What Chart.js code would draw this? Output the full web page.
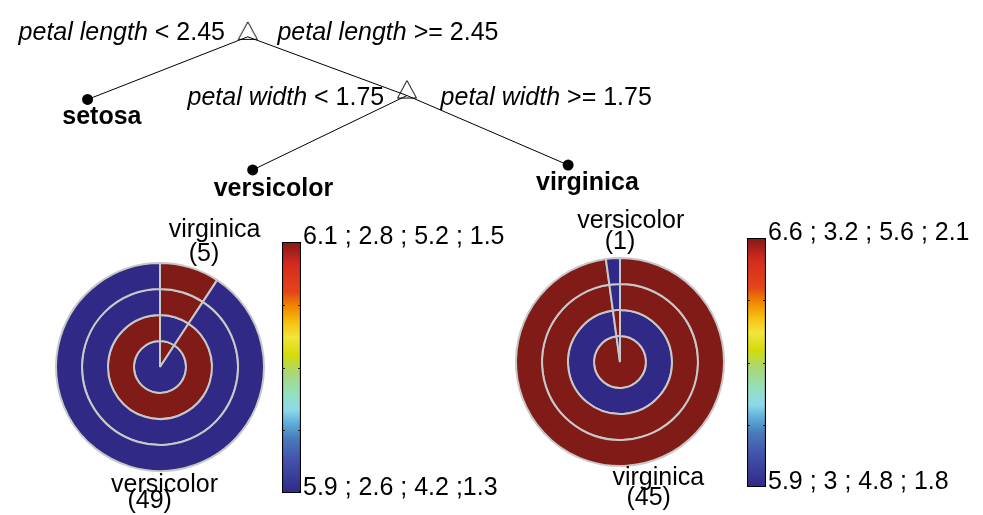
<!DOCTYPE html>
<html>
<head>
<meta charset="utf-8">
<title>Iris decision tree</title>
<script src="https://cdn.jsdelivr.net/npm/chart.js@4.4.1/dist/chart.umd.min.js"></script>
<style>
  html, body { margin: 0; padding: 0; background: #fff; }
  #page { position: relative; width: 983px; height: 515px; overflow: hidden; }
  #page canvas { position: absolute; }
</style>
</head>
<body>
<div id="page">
  <canvas id="tree" width="983" height="515" style="left:0;top:0"></canvas>
  <canvas id="pieLeft" width="320" height="320" style="left:0;top:207px"></canvas>
  <canvas id="pieRight" width="320" height="320" style="left:460px;top:202px"></canvas>
  <canvas id="barLeft" width="260" height="291" style="left:281px;top:222px"></canvas>
  <canvas id="barRight" width="237" height="289" style="left:746px;top:218px"></canvas>
</div>
<script>
// ---- tree ----
const splitFeatures = ['petal length', 'petal width'];
const splitThresholds = [2.45, 1.75];
const leafClasses = ['setosa', 'versicolor', 'virginica'];
// parent -> child, 's' = split node, 'l' = leaf
const treeEdges = [['s0', 'l0'], ['s0', 's1'], ['s1', 'l1'], ['s1', 'l2']];

// ---- leaf summaries (slice order: virginica, versicolor) ----
const pieClasses = ['virginica', 'versicolor'];
const featureNames = ['sepal length', 'sepal width', 'petal length', 'petal width'];

const leftCounts = [5, 49];
const leftVirginica = [6.1, 2.6, 5.2, 1.5];
const leftVersicolor = [5.9, 2.8, 4.2, 1.3];

const rightCounts = [45, 1];
const rightVirginica = [6.6, 3.0, 5.6, 2.1];
const rightVersicolor = [5.9, 3.2, 4.8, 1.8];

// colour bar end labels
const leftBarTop = '6.1 ; 2.8 ; 5.2 ; 1.5';
const leftBarBottom = '5.9 ; 2.6 ; 4.2 ;1.3';
const rightBarTop = '6.6 ; 3.2 ; 5.6 ; 2.1';
const rightBarBottom = '5.9 ; 3 ; 4.8 ; 1.8';

// ---- layout (page pixels) ----
const splitPos = [[245, 32], [406, 92]];
const splitLabelPos = [
  { leftEnd: 222, rightStart: 275, baseline: 35 },
  { leftEnd: 383, rightStart: 440, baseline: 102 }
];
const leafPos = [[83, 96], [250, 168], [569, 163]];
const leafLabelPos = [[97.5, 121], [271, 195], [588.5, 189]];
// label offsets from the pie centre, per slice: [name, count]
const leftPieLabels = [[[54.5, -130], [44, -106]], [[4.5, 125], [-10.3, 141.3]]];
const rightPieLabels = [[[38.3, 123], [28.7, 143]], [[10.8, -133.7], [0, -113]]];

const FONT = '"Liberation Sans", Arial, Helvetica, sans-serif';
const FONT_SIZE = 25;

Chart.defaults.font.family = FONT;
Chart.defaults.color = '#000';
Chart.defaults.animation = false;
Chart.defaults.events = [];
Chart.defaults.plugins.legend.display = false;
Chart.defaults.plugins.tooltip.enabled = false;

// jet-like map, 0 = low (navy) .. 1 = high (dark red)
const colorStops = [
  [0.00, [48, 41, 134]],
  [0.13, [66, 82, 170]],
  [0.22, [74, 124, 188]],
  [0.28, [95, 176, 218]],
  [0.33, [142, 216, 234]],
  [0.39, [147, 224, 196]],
  [0.48, [169, 216, 115]],
  [0.55, [211, 220, 10]],
  [0.62, [244, 228, 60]],
  [0.68, [247, 192, 16]],
  [0.75, [240, 128, 0]],
  [0.80, [227, 70, 26]],
  [0.91, [213, 43, 30]],
  [0.97, [160, 30, 26]],
  [1.00, [128, 27, 23]]
];

function colormap(t) {
  t = Math.max(0, Math.min(1, t));
  for (let i = 1; i < colorStops.length; i++) {
    const [t1, c1] = colorStops[i];
    const [t0, c0] = colorStops[i - 1];
    if (t <= t1) {
      const f = (t - t0) / (t1 - t0);
      const c = c0.map((v, k) => Math.round(v + (c1[k] - v) * f));
      return `rgb(${c[0]},${c[1]},${c[2]})`;
    }
  }
  return 'rgb(128,27,23)';
}

// ---------- tree ----------
// open triangle drawn above the split point
function triangleMarker() {
  const c = document.createElement('canvas');
  c.width = 22;
  c.height = 36;
  const g = c.getContext('2d');
  g.strokeStyle = '#000';
  g.lineWidth = 1;
  g.beginPath();
  g.moveTo(11, 3);
  g.lineTo(1.5, 20.5);
  g.lineTo(20.5, 20.5);
  g.closePath();
  g.stroke();
  return c;
}

function nodePoint(id) {
  const p = id[0] === 's' ? splitPos[+id.slice(1)] : leafPos[+id.slice(1)];
  return { x: p[0], y: p[1] };
}

function drawRuns(ctx, runs, x, y, align) {
  const fonts = runs.map(r => (r[1] ? 'italic ' : '') + FONT_SIZE + 'px ' + FONT);
  const widths = runs.map((r, i) => { ctx.font = fonts[i]; return ctx.measureText(r[0]).width; });
  let cx = align === 'right' ? x - widths.reduce((a, b) => a + b, 0) : x;
  ctx.textAlign = 'left';
  runs.forEach((r, i) => {
    ctx.font = fonts[i];
    ctx.fillText(r[0], cx, y);
    cx += widths[i];
  });
}

const treeLabels = {
  id: 'treeLabels',
  afterDatasetsDraw(chart) {
    const { ctx, scales: { x, y } } = chart;
    ctx.save();
    ctx.fillStyle = '#000';
    ctx.textBaseline = 'alphabetic';
    splitFeatures.forEach((feat, i) => {
      const L = splitLabelPos[i];
      const by = y.getPixelForValue(L.baseline);
      drawRuns(ctx, [[feat, true], [' < ' + splitThresholds[i], false]], x.getPixelForValue(L.leftEnd), by, 'right');
      drawRuns(ctx, [[feat, true], [' >= ' + splitThresholds[i], false]], x.getPixelForValue(L.rightStart), by, 'left');
    });
    ctx.font = 'bold ' + FONT_SIZE + 'px ' + FONT;
    ctx.textAlign = 'center';
    leafClasses.forEach((name, i) => {
      const [lx, ly] = leafLabelPos[i];
      ctx.fillText(name, x.getPixelForValue(lx), y.getPixelForValue(ly));
    });
    ctx.restore();
  }
};

const edgeSets = treeEdges.map(([a, b]) => ({
  data: [nodePoint(a), nodePoint(b)],
  showLine: true,
  borderColor: '#000',
  borderWidth: 1,
  pointRadius: 0,
  order: 2
}));

new Chart(document.getElementById('tree'), {
  type: 'scatter',
  data: {
    datasets: [
      {
        data: splitPos.map(p => ({ x: p[0], y: p[1] })),
        pointStyle: triangleMarker(),
        pointRadius: 3,
        order: 0
      },
      {
        data: leafPos.map(p => ({ x: p[0], y: p[1] })),
        pointStyle: 'circle',
        pointRadius: 5.5,
        backgroundColor: '#000',
        borderColor: '#000',
        borderWidth: 0,
        order: 0
      },
      ...edgeSets
    ]
  },
  options: {
    responsive: false,
    devicePixelRatio: 1,
    layout: { padding: 0 },
    scales: {
      x: { type: 'linear', min: 0, max: 983, display: false },
      y: { type: 'linear', min: 0, max: 515, reverse: true, display: false }
    }
  },
  plugins: [treeLabels]
});

// ---------- pies ----------
function ringDatasets(counts, perClass) {
  // datasets run outer -> inner, so petal width is the outer ring
  return featureNames.map((name, f) => {
    const vals = perClass.map(v => v[f]);
    const lo = Math.min(...vals);
    const hi = Math.max(...vals);
    return {
      label: name,
      data: counts,
      backgroundColor: vals.map(v => colormap(hi > lo ? (v - lo) / (hi - lo) : 0)),
      borderColor: '#c8c8c8',
      borderWidth: 2
    };
  }).reverse();
}

function pieLabelPlugin(counts, offsets) {
  return {
    id: 'pieLabels',
    afterDraw(chart) {
      const { ctx, chartArea } = chart;
      const cx = (chartArea.left + chartArea.right) / 2;
      const cy = (chartArea.top + chartArea.bottom) / 2;
      ctx.save();
      ctx.fillStyle = '#000';
      ctx.font = FONT_SIZE + 'px ' + FONT;
      ctx.textAlign = 'center';
      ctx.textBaseline = 'alphabetic';
      pieClasses.forEach((name, i) => {
        const [nOff, cOff] = offsets[i];
        ctx.fillText(name, cx + nOff[0], cy + nOff[1]);
        ctx.fillText('(' + counts[i] + ')', cx + cOff[0], cy + cOff[1]);
      });
      ctx.restore();
    }
  };
}

function makePie(id, counts, perClass, offsets) {
  new Chart(document.getElementById(id), {
    type: 'doughnut',
    data: { labels: pieClasses, datasets: ringDatasets(counts, perClass) },
    options: {
      responsive: false,
      devicePixelRatio: 1,
      cutout: 0,
      rotation: 0,
      layout: { padding: 55 }
    },
    plugins: [pieLabelPlugin(counts, offsets)]
  });
}

makePie('pieLeft', leftCounts, [leftVirginica, leftVersicolor], leftPieLabels);
makePie('pieRight', rightCounts, [rightVirginica, rightVersicolor], rightPieLabels);

// ---------- colour bars ----------
const barTicks = {
  id: 'barTicks',
  afterDatasetsDraw(chart) {
    const { ctx, chartArea, scales: { y } } = chart;
    ctx.save();
    ctx.strokeStyle = '#222';
    ctx.lineWidth = 1;
    [0.25, 0.5, 0.75].forEach(v => {
      const py = Math.round(y.getPixelForValue(v)) + 0.5;
      ctx.beginPath();
      ctx.moveTo(chartArea.left, py);
      ctx.lineTo(chartArea.left + 3, py);
      ctx.moveTo(chartArea.right - 3, py);
      ctx.lineTo(chartArea.right, py);
      ctx.stroke();
    });
    ctx.restore();
  }
};

function makeBar(id, topLabel, bottomLabel) {
  const canvas = document.getElementById(id);
  const barWidth = 19;
  new Chart(canvas, {
    type: 'bar',
    data: {
      labels: [''],
      datasets: [{
        data: [[0, 1]],
        backgroundColor(ctx) {
          const ca = ctx.chart.chartArea;
          if (!ca) return null;
          const g = ctx.chart.ctx.createLinearGradient(0, ca.bottom, 0, ca.top);
          colorStops.forEach(([t]) => g.addColorStop(t, colormap(t)));
          return g;
        },
        borderColor: '#000',
        borderWidth: 1.5,
        borderSkipped: false,
        barPercentage: 1,
        categoryPercentage: 1
      }]
    },
    options: {
      responsive: false,
      devicePixelRatio: 1,
      layout: { padding: { left: 1, right: 0, top: 20, bottom: 20 } },
      scales: {
        x: { display: false },
        y: {
          position: 'right',
          min: 0,
          max: 1,
          grid: { display: false, drawTicks: false },
          border: { display: false },
          afterBuildTicks(scale) { scale.ticks = [{ value: 0 }, { value: 1 }]; },
          afterFit(scale) { scale.width = canvas.width - 1 - barWidth; },
          ticks: {
            autoSkip: false,
            padding: 2,
            labelOffset: -5,
            font: { size: FONT_SIZE },
            color: '#000',
            callback: v => (v === 1 ? topLabel : bottomLabel)
          }
        }
      }
    },
    plugins: [barTicks]
  });
}

makeBar('barLeft', leftBarTop, leftBarBottom);
makeBar('barRight', rightBarTop, rightBarBottom);
</script>
</body>
</html>
